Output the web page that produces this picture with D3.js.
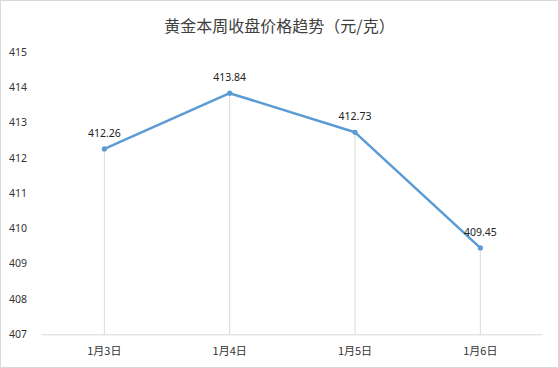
<!DOCTYPE html>
<html><head><meta charset="utf-8">
<script src="https://cdn.jsdelivr.net/npm/d3@7"></script>
<style>body{margin:0;background:#fff}svg{display:block}</style>
</head><body>
<script>
const title = "黄金本周收盘价格趋势（元/克）";
const categories = ["1月3日","1月4日","1月5日","1月6日"];
const values = [412.26, 413.84, 412.73, 409.45];
const yTicks = [407,408,409,410,411,412,413,414,415];

(function(){
const W = 559, H = 368;
const svg = d3.select("body").append("svg").attr("width", W).attr("height", H);
svg.append("rect").attr("x",0.5).attr("y",0.5).attr("width",W-1).attr("height",H-1)
  .attr("fill","#fff").attr("stroke","#d9d9d9");

const pL = 41.7, pR = 543, pT = 52.3, pB = 334.3;
const x = d3.scaleBand().domain(categories).range([pL, pR]);
const y = d3.scaleLinear().domain([407, 415]).range([pB, pT]);
const cx = d => x(d) + x.bandwidth()/2;

svg.append("text").attr("x", W/2).attr("y", 32).attr("text-anchor","middle")
  .attr("font-family","'Noto Sans CJK SC', sans-serif").attr("font-size",16).attr("fill","#404040")
  .text(title);

svg.append("g").selectAll("text").data(yTicks).join("text")
  .attr("x", 9).attr("y", d => y(d)).attr("dy","0.35em")
  .attr("font-family","'Noto Sans', 'DejaVu Sans', sans-serif").attr("font-size",10.5).attr("fill","#333")
  .text(d => d);

svg.append("g").selectAll("line").data(categories).join("line")
  .attr("x1", d => cx(d)).attr("x2", d => cx(d))
  .attr("y1", (d,i) => y(values[i])).attr("y2", pB)
  .attr("stroke","#d9d9d9").attr("stroke-width",1);

svg.append("line").attr("x1", pL).attr("x2", pR).attr("y1", pB+0.5).attr("y2", pB+0.5)
  .attr("stroke","#d9d9d9").attr("stroke-width",1);

svg.append("g").selectAll("text").data(categories).join("text")
  .attr("x", d => cx(d)).attr("y", 351).attr("dy","0.35em").attr("text-anchor","middle")
  .attr("font-family","'Noto Sans CJK SC', sans-serif").attr("font-size",11).attr("fill","#333")
  .text(d => d);

const line = d3.line().x((d,i) => cx(categories[i])).y(d => y(d));
svg.append("path").datum(values).attr("d", line).attr("fill","none")
  .attr("stroke","#5b9bd5").attr("stroke-width",2.5).attr("stroke-linejoin","round").attr("stroke-linecap","round");

svg.append("g").selectAll("circle").data(values).join("circle")
  .attr("cx", (d,i) => cx(categories[i])).attr("cy", d => y(d)).attr("r", 2.6)
  .attr("fill","#5b9bd5");

svg.append("g").selectAll("text").data(values).join("text")
  .attr("x", (d,i) => cx(categories[i])).attr("y", d => y(d) - 12)
  .attr("text-anchor","middle")
  .attr("font-family","'Noto Sans', 'DejaVu Sans', sans-serif").attr("font-size",10.5).attr("fill","#222")
  .text(d => d.toFixed(2));
})();
</script>
</body></html>
